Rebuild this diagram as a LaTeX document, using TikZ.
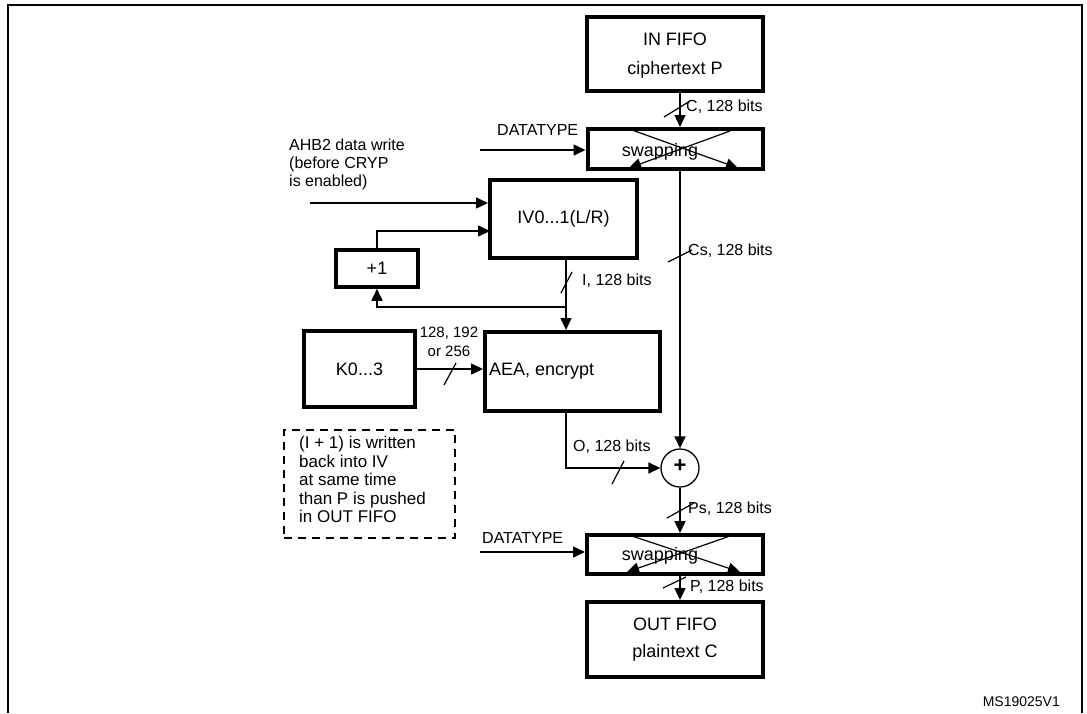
\documentclass[tikz,border=0pt]{standalone}
\usepackage{fontspec}
\setmainfont{Liberation Sans}
\usetikzlibrary{arrows.meta,calc}
\begin{document}
\begin{tikzpicture}[x=1pt,y=-1pt,
  box/.style={draw,line width=4pt,inner sep=0pt,align=center,font=\fontsize{18}{21}\selectfont},
  conn/.style={line width=1.5pt},
  arr/.style={conn,-{Triangle[length=12pt,width=11pt]}},
  lbl/.style={anchor=west,inner sep=0pt,font=\fontsize{16}{18}\selectfont},
  sl/.style={line width=1.2pt}]
\useasboundingbox (0,0) rectangle (1087,713);
\draw[line width=1.5pt] (8,713) -- (8,5) -- (1082,5) -- (1082,713);
% boxes
\node[box,minimum width=176pt,minimum height=74pt,text depth=0pt] (in) at (675,54) {IN FIFO\\[8pt]ciphertext P};
\node[box,minimum width=175pt,minimum height=40pt,font=\fontsize{18}{20}\selectfont] (sw1) at (675,149) {};
\node[box,minimum width=147pt,minimum height=78pt] (iv) at (563.5,219) {IV0...1(L/R)};
\node[box,minimum width=82pt,minimum height=37pt,line width=3.5pt] (p1) at (377,268.5) {+1};
\node[box,minimum width=111pt,minimum height=76pt] (k) at (359.5,369) {K0...3};
\node[box,minimum width=175pt,minimum height=79pt] (aea) at (572.5,371.5) {};
\node[anchor=west,inner sep=0pt,font=\fontsize{18}{20}\selectfont] (aeat) at (489,371) {AEA, encrypt};
\node[draw,circle,line width=1.3pt,minimum size=38pt,inner sep=0pt] (x) at (680,468) {};
\node[font=\fontsize{22}{22}\selectfont\bfseries] (xp) at (680,466) {+};
\node[box,minimum width=176pt,minimum height=39pt] (sw2) at (675,554.5) {};
\node[box,minimum width=176pt,minimum height=75pt] (out) at (675,639.5) {OUT FIFO\\[6pt]plaintext C};
% swapping
\foreach \s/\y in {sw1/152,sw2/556}{
  \node[font=\fontsize{18}{20}\selectfont] (\s t) at (660,\y) {swapping};
}
\coordinate (a1) at (632,130); \coordinate (a2) at (738,168);
\coordinate (b1) at (730,131); \coordinate (b2) at (629,168);
\draw[conn,line width=1.2pt,-{Triangle[length=12pt,width=11pt]}] (a1) -- (a2);
\draw[conn,line width=1.2pt,-{Triangle[length=12pt,width=11pt]}] (b1) -- (b2);
\coordinate (c1) at (632,536); \coordinate (c2) at (740,572);
\coordinate (d1) at (730,536); \coordinate (d2) at (627,572);
\draw[conn,line width=1.2pt,-{Triangle[length=12pt,width=11pt]}] (c1) -- (c2);
\draw[conn,line width=1.2pt,-{Triangle[length=12pt,width=11pt]}] (d1) -- (d2);
% main vertical
\draw[arr] (x |- in.south) -- (x |- sw1.north);
\draw[arr] (x |- sw1.south) -- (x.north);
\draw[arr] (x.south) -- (x |- sw2.north);
\draw[arr] (x |- sw2.south) -- (x |- out.north);
% datatype
\node[lbl,anchor=base west] (dt1) at (497,135) {DATATYPE};
\coordinate (dt1s) at (480,150);
\draw[arr] (dt1s) -- (sw1.west |- dt1s);
\node[lbl,anchor=base west] (dt2) at (482,543) {DATATYPE};
\coordinate (dt2s) at (480,552);
\draw[arr] (dt2s) -- (sw2.west |- dt2s);
% AHB2
\node[anchor=north west,inner sep=0pt,align=left,font=\fontsize{16}{18}\selectfont] (ahb) at (289,139) {AHB2 data write\\(before CRYP\\is enabled)};
\coordinate (ahbs) at (310,203);
\draw[arr] (ahbs) -- (iv.west |- ahbs);
\coordinate (ivin) at (490,231);
\draw[arr] (p1.north) |- (ivin);
% I line
\coordinate (ib) at (566,307);
\draw[conn] (ib |- iv.south) -- (ib);
\draw[arr] (ib) -- (ib |- aea.north);
\draw[arr] (ib) -| (p1.south);
% K
\draw[arr] (k.east) -- (aea.west |- k.east);
\node[align=center,inner sep=0pt,font=\fontsize{15}{19}\selectfont] (kl) at (449,342) {128, 192\\or 256};
% O line
\draw[arr] (ib |- aea.south) |- (x.west);
% slashes
\draw[sl] (664,117) -- (690,101);
\draw[sl] (668,262) -- (692,250);
\draw[sl] (561,293) -- (572,272);
\draw[sl] (444,385) -- (456,363);
\draw[sl] (612,484) -- (624,461);
\draw[sl] (667,518) -- (694,503);
\draw[sl] (663,588) -- (686,577);
% labels
\node[lbl] (lc) at (686,107) {C, 128 bits};
\node[lbl] (lcs) at (688,251) {Cs, 128 bits};
\node[lbl] (li) at (582,281) {I, 128 bits};
\node[lbl] (lo) at (573,447) {O, 128 bits};
\node[lbl] (lps) at (688,509) {Ps, 128 bits};
\node[lbl] (lp) at (690,587) {P, 128 bits};
% dashed note
\node[draw,dash pattern=on 8pt off 6pt,line width=1.3pt,minimum width=171pt,minimum height=108pt,inner sep=0pt] (note) at (369.5,484) {};
\node[anchor=north west,inner sep=0pt,align=left,font=\fontsize{17}{18.5}\selectfont] (notet) at (299,436) {(I + 1) is written\\back into IV\\at same time\\than P is pushed\\in OUT FIFO};
\node[anchor=base east,inner sep=0pt,font=\fontsize{14}{16}\selectfont] (ms) at (1060,706) {MS19025V1};
\end{tikzpicture}
\end{document}
